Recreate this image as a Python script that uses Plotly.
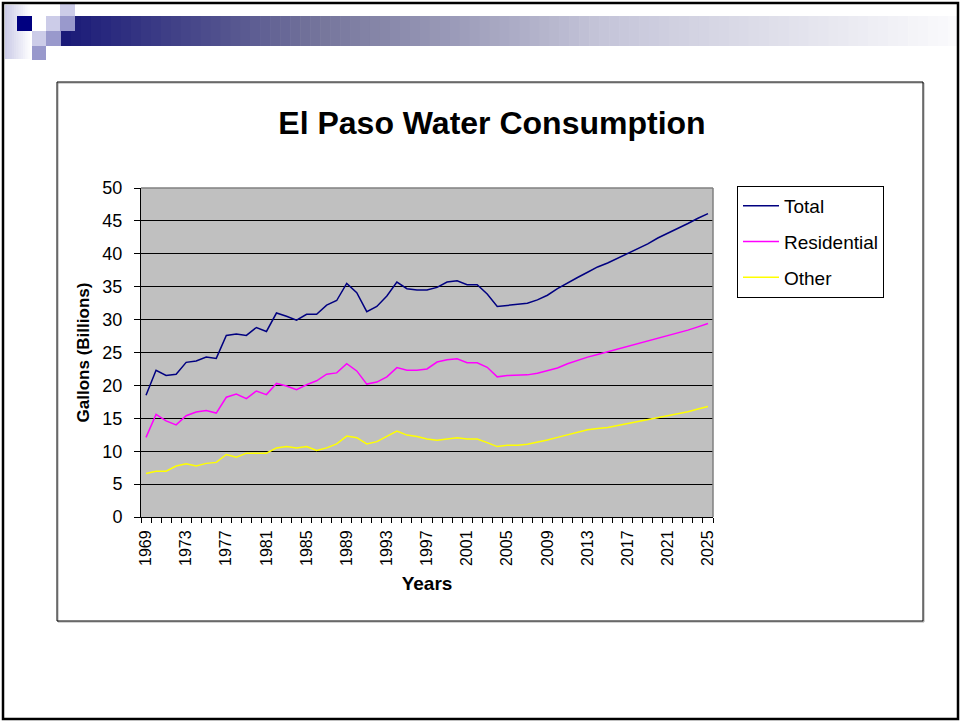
import plotly.graph_objects as go

# ---------------- data ----------------
years = list(range(1969, 2026))
tick_years = [1969, 1973, 1977, 1981, 1985, 1989, 1993, 1997, 2001, 2005,
              2009, 2013, 2017, 2021, 2025]

total = [18.5, 22.3, 21.5, 21.7, 23.5, 23.7, 24.3, 24.1, 27.6, 27.8, 27.6,
         28.8, 28.2, 31.0, 30.5, 29.9, 30.8, 30.8, 32.2, 32.9, 35.5, 34.1,
         31.2, 32.0, 33.6, 35.7, 34.7, 34.5, 34.5, 34.9, 35.7, 35.9, 35.3,
         35.3, 33.9, 32.0, 32.15, 32.3, 32.5, 33.0, 33.7, 34.7, 35.6,
         36.4, 37.2, 38.0, 38.6, 39.3, 40.0, 40.7, 41.5, 42.4, 43.1, 43.9,
         44.6, 45.4, 46.1]

residential = [12.1, 15.6, 14.6, 14.0, 15.4, 15.95, 16.2, 15.8, 18.2, 18.7,
               18.0, 19.15, 18.6, 20.3, 19.9, 19.35, 20.1, 20.7, 21.7, 21.9,
               23.3, 22.2,
               20.2, 20.5, 21.3, 22.7, 22.3, 22.3, 22.5, 23.55, 23.9, 24.05,
               23.45, 23.45, 22.75, 21.3, 21.5, 21.5, 21.6, 21.85, 22.2, 22.65,
               23.3,
               23.85, 24.3, 24.7, 25.1, 25.5, 25.9, 26.3, 26.75, 27.15, 27.5,
               27.9, 28.4, 28.9, 29.4]

other = [6.6, 6.95, 6.95, 7.75, 8.1, 7.75, 8.15, 8.3, 9.5, 9.1, 9.7, 9.7,
         9.7, 10.5, 10.7, 10.5, 10.7, 10.1, 10.5, 11.1, 12.3, 12.05,
         11.1, 11.45, 12.25, 13.05, 12.45, 12.25, 11.85, 11.65, 11.85, 12.05,
         11.85, 11.85, 11.3, 10.7, 10.9, 10.9, 11.05, 11.35, 11.7, 12.1, 12.5,
         12.9, 13.25, 13.45, 13.6, 13.9, 14.2, 14.5, 14.75, 15.0, 15.35,
         15.65, 16.0, 16.4, 16.8]

series_names = ["Total", "Residential", "Other"]
series_colors = ["#000080", "#FF00FF", "#FFFF00"]

# ---------------- layout geometry (pixels) ----------------
W, H = 961, 721
L, R, T, B = 141, 713, 188, 517     # plot area in page pixels
PW, PH = R - L, B - T


def px(x):
    return (x - L) / PW


def py(y):
    return (B - y) / PH


FONT = "Arial, 'Liberation Sans', sans-serif"

fig = go.Figure()
for name, vals, col in zip(series_names, [total, residential, other], series_colors):
    fig.add_trace(go.Scatter(x=years, y=vals, mode="lines", name=name,
                             legendgroup=name,
                             line=dict(color=col, width=1.5)))

shapes = []


def rect(x0, y0, x1, y1, fill=None, line_color=None, lw=0, layer="below"):
    d = dict(type="rect", xref="paper", yref="paper",
             x0=px(x0), x1=px(x1), y0=py(y1), y1=py(y0), layer=layer,
             line=dict(width=lw, color=line_color or "rgba(0,0,0,0)"))
    d["fillcolor"] = fill if fill else "rgba(0,0,0,0)"
    shapes.append(d)


def lerp_stops(stops, t):
    for (t0, c0), (t1, c1) in zip(stops[:-1], stops[1:]):
        if t <= t1:
            f = (t - t0) / (t1 - t0) if t1 > t0 else 0
            return tuple(int(round(a + (b - a) * f)) for a, b in zip(c0, c1))
    return stops[-1][1]


# left light strip (lavender -> white)
n = 12
for i in range(n):
    x0 = 5 + (32 - 5) * i / n
    x1 = 5 + (32 - 5) * (i + 1) / n + 0.6
    c = lerp_stops([(0, (204, 204, 232)), (1, (255, 255, 255))], i / (n - 1))
    rect(x0, 5, x1, 59, fill="rgb(%d,%d,%d)" % c)

# gradient bar
bar_stops = [(0.0, (26, 26, 120)), (0.29, (118, 118, 156)),
             (0.6, (196, 196, 216)), (1.0, (250, 250, 252))]
n = 90
for i in range(n):
    x0 = 61 + (958 - 61) * i / n
    x1 = 61 + (958 - 61) * (i + 1) / n + 0.6
    c = lerp_stops(bar_stops, i / (n - 1))
    rect(x0, 16, x1, 46, fill="rgb(%d,%d,%d)" % c)

LIGHT, MED, NAVY = "#CCCCE8", "#9999CC", "#000080"
rect(60, 4, 75, 16, fill=LIGHT)
rect(17, 16, 32, 31, fill=NAVY)
rect(46, 16, 60, 31, fill=LIGHT)
rect(60, 16, 75, 31, fill=MED)
rect(32, 31, 46, 46, fill=LIGHT)
rect(46, 31, 61, 46, fill=MED)
rect(32, 46, 46, 60, fill=MED)

# slide border
rect(3, 3, 958, 719, line_color="black", lw=2.5)
# chart box
rect(57, 82, 923, 621, line_color="black", lw=1)
rect(58, 83, 924, 622, line_color="rgba(0,0,0,0.35)", lw=1)

# plot area top/right border (gray)
shapes.append(dict(type="line", xref="paper", yref="paper", x0=0, x1=1, y0=1, y1=1,
                   line=dict(color="#808080", width=1.5), layer="above"))
shapes.append(dict(type="line", xref="paper", yref="paper", x0=1, x1=1, y0=0, y1=1,
                   line=dict(color="#808080", width=1.5), layer="above"))

fig.update_layout(
    width=W, height=H,
    margin=dict(l=L, r=W - R, t=T, b=H - B, pad=0),
    paper_bgcolor="white",
    plot_bgcolor="#C0C0C0",
    font=dict(family=FONT, color="black"),
    title=dict(text="<b>El Paso Water Consumption</b>",
               font=dict(size=32, family=FONT, color="black"),
               x=px(492), xref="paper", xanchor="center",
               y=1 - 123 / H, yref="container", yanchor="middle"),
    showlegend=True,
    legend=dict(x=px(737), y=py(186), xanchor="left", yanchor="top",
                bgcolor="white", bordercolor="black", borderwidth=1,
                font=dict(size=19, family=FONT, color="black"),
                tracegroupgap=8, itemwidth=36,
                entrywidth=128, entrywidthmode="pixels"),
    shapes=shapes,
)

fig.update_xaxes(
    range=[1968.5, 2025.5],
    tickmode="array", tickvals=tick_years, ticktext=[str(y) for y in tick_years],
    tickangle=-90, ticks="", showgrid=False, zeroline=False,
    showline=True, linecolor="black", linewidth=1,
    tickfont=dict(size=16, family=FONT, color="black"),
    ticklabelstandoff=6,
    minor=dict(tick0=1968.5, dtick=1, ticks="outside", ticklen=5,
               tickcolor="black", tickwidth=1, showgrid=False),
    title=dict(text="<b>Years</b>", font=dict(size=19, family=FONT, color="black"),
               standoff=11),
)

fig.update_yaxes(
    range=[0, 50], dtick=5, tick0=0,
    showgrid=True, gridcolor="black", gridwidth=1, zeroline=False,
    showline=True, linecolor="black", linewidth=1,
    ticks="outside", ticklen=6, tickcolor="black",
    tickfont=dict(size=18, family=FONT, color="black"),
    ticklabelstandoff=8,
    title=dict(text="<b>Gallons (Billions)</b>",
               font=dict(size=17, family=FONT, color="black"), standoff=8),
)

fig.write_html("out.html", config={"displayModeBar": False},
               post_script="document.body.style.margin='0';document.body.style.overflow='hidden';")
